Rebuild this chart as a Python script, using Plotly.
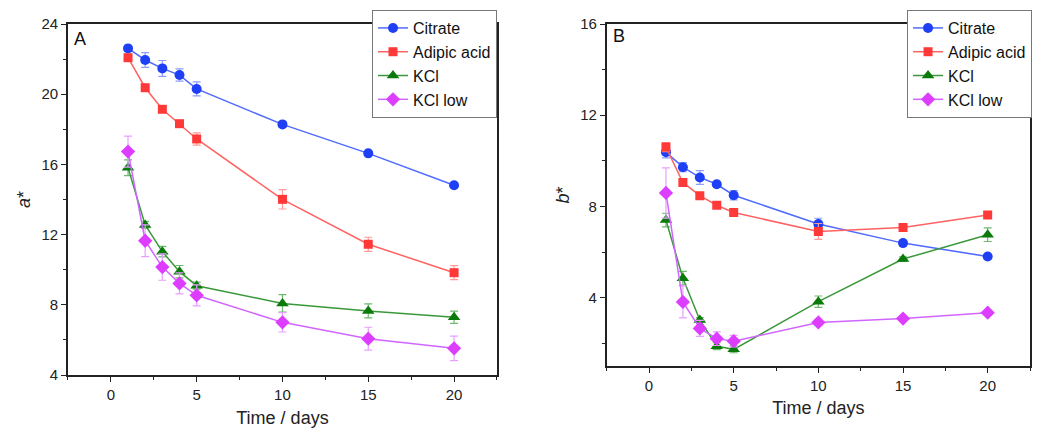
import plotly.graph_objects as go

days = [1, 2, 3, 4, 5, 10, 15, 20]
series_names = ["Citrate", "Adipic acid", "KCl", "KCl low"]

# Panel A: a*
a_citrate = [22.61, 21.95, 21.47, 21.09, 20.30, 18.28, 16.63, 14.81]
a_citrate_err = [0.15, 0.42, 0.45, 0.35, 0.40, 0.15, 0.10, 0.10]
a_adipic = [22.08, 20.37, 19.14, 18.32, 17.45, 14.01, 11.45, 9.83]
a_adipic_err = [0.15, 0.15, 0.15, 0.15, 0.35, 0.55, 0.40, 0.40]
a_kcl = [15.81, 12.55, 11.03, 9.89, 9.09, 8.08, 7.65, 7.29]
a_kcl_err = [0.45, 0.20, 0.30, 0.35, 0.20, 0.50, 0.40, 0.35]
a_kcllow = [16.73, 11.65, 10.15, 9.22, 8.54, 7.00, 6.07, 5.52]
a_kcllow_err = [0.88, 0.90, 0.75, 0.60, 0.60, 0.55, 0.65, 0.70]

# Panel B: b*
b_citrate = [10.38, 9.72, 9.27, 8.97, 8.49, 7.23, 6.39, 5.80]
b_citrate_err = [0.25, 0.20, 0.30, 0.10, 0.20, 0.25, 0.10, 0.10]
b_adipic = [10.60, 9.05, 8.47, 8.05, 7.73, 6.90, 7.08, 7.62]
b_adipic_err = [0.20, 0.10, 0.10, 0.10, 0.10, 0.35, 0.10, 0.10]
b_kcl = [7.40, 4.85, 3.02, 1.87, 1.73, 3.82, 5.69, 6.76]
b_kcl_err = [0.30, 0.30, 0.10, 0.15, 0.15, 0.25, 0.10, 0.30]
b_kcllow = [8.59, 3.81, 2.65, 2.20, 2.09, 2.91, 3.08, 3.34]
b_kcllow_err = [1.10, 0.70, 0.35, 0.30, 0.25, 0.10, 0.10, 0.10]

marker_colors = ["#1f3ff5", "#ff3838", "#0a7a0a", "#dd3dff"]
line_colors = ["#4f6bff", "#ff6262", "#3a983a", "#d066ff"]
err_colors = ["#8c9cff", "#ff9a9a", "#6fb86f", "#e6a0ff"]
symbols = ["circle", "square", "triangle-up", "diamond"]
sizes = [10, 9, 11, 11]

FONT = "Liberation Sans, Arial, sans-serif"

fig = go.Figure()

panels = [
    ("x", "y", "legend", [a_citrate, a_adipic, a_kcl, a_kcllow],
     [a_citrate_err, a_adipic_err, a_kcl_err, a_kcllow_err]),
    ("x2", "y2", "legend2", [b_citrate, b_adipic, b_kcl, b_kcllow],
     [b_citrate_err, b_adipic_err, b_kcl_err, b_kcllow_err]),
]

for xa, ya, leg, vals, errs in panels:
    for i, name in enumerate(series_names):
        fig.add_trace(go.Scatter(
            x=days, y=vals[i], name=name, xaxis=xa, yaxis=ya, legend=leg,
            mode="lines+markers",
            line=dict(color=line_colors[i], width=1.5),
            marker=dict(color=marker_colors[i], symbol=symbols[i], size=sizes[i]),
            error_y=dict(type="data", array=errs[i], visible=True,
                         color=err_colors[i], thickness=1.2, width=4),
        ))

axis_common = dict(
    showgrid=False, zeroline=False, showline=True, mirror=True,
    linecolor="#222222", linewidth=1.5, ticks="outside", ticklen=5,
    tickwidth=1.3, tickcolor="#222222", automargin=False,
    tickfont=dict(family=FONT, size=15, color="#222222"),
)

fig.update_layout(
    width=1052, height=429,
    margin=dict(l=0, r=0, t=0, b=0, autoexpand=False),
    paper_bgcolor="white", plot_bgcolor="white",
    font=dict(family=FONT, color="#222222"),
    xaxis=dict(domain=[0.0570, 0.4648], range=[-2.5, 22.5], tick0=0, dtick=5,
               minor=dict(dtick=2.5, ticklen=3, tickcolor="#222222", ticks="outside"),
               title=dict(text="Time / days", font=dict(family=FONT, size=18), standoff=10),
               anchor="y", **axis_common),
    yaxis=dict(domain=[0.1445, 0.9627], range=[4, 24], tick0=0, dtick=4,
               minor=dict(dtick=2, ticklen=3, tickcolor="#222222", ticks="outside"),
               title=dict(text="<i>a</i>*", font=dict(family=FONT, size=18), standoff=6),
               anchor="x", **axis_common),
    xaxis2=dict(domain=[0.5691, 0.9715], range=[-2.5, 22.5], tick0=0, dtick=5,
                minor=dict(dtick=2.5, ticklen=3, tickcolor="#222222", ticks="outside"),
                title=dict(text="Time / days", font=dict(family=FONT, size=18), standoff=9),
                anchor="y2", **axis_common),
    yaxis2=dict(domain=[0.1655, 0.9627], range=[1, 16], tick0=0, dtick=4,
                minor=dict(dtick=2, ticklen=3, tickcolor="#222222", ticks="outside"),
                title=dict(text="<i>b</i>*", font=dict(family=FONT, size=18), standoff=6),
                anchor="x2", **axis_common),
    legend=dict(x=0.346, y=0.9953, xanchor="left", yanchor="top",
                bgcolor="white", bordercolor="#777777", borderwidth=1,
                font=dict(family=FONT, size=16, color="#111111"),
                tracegroupgap=0),
    legend2=dict(x=0.8546, y=0.9953, xanchor="left", yanchor="top",
                 bgcolor="white", bordercolor="#777777", borderwidth=1,
                 font=dict(family=FONT, size=16, color="#111111"),
                 tracegroupgap=0),
    showlegend=True,
    annotations=[
        dict(text="A", x=0.0570, y=0.9627, xref="paper", yref="paper",
             xanchor="left", yanchor="top", xshift=4, yshift=-3, showarrow=False,
             font=dict(family=FONT, size=18, color="#111111")),
        dict(text="B", x=0.5691, y=0.9627, xref="paper", yref="paper",
             xanchor="left", yanchor="top", xshift=4, yshift=0, showarrow=False,
             font=dict(family=FONT, size=18, color="#111111")),
    ],
)

fig.write_html("out.html")
